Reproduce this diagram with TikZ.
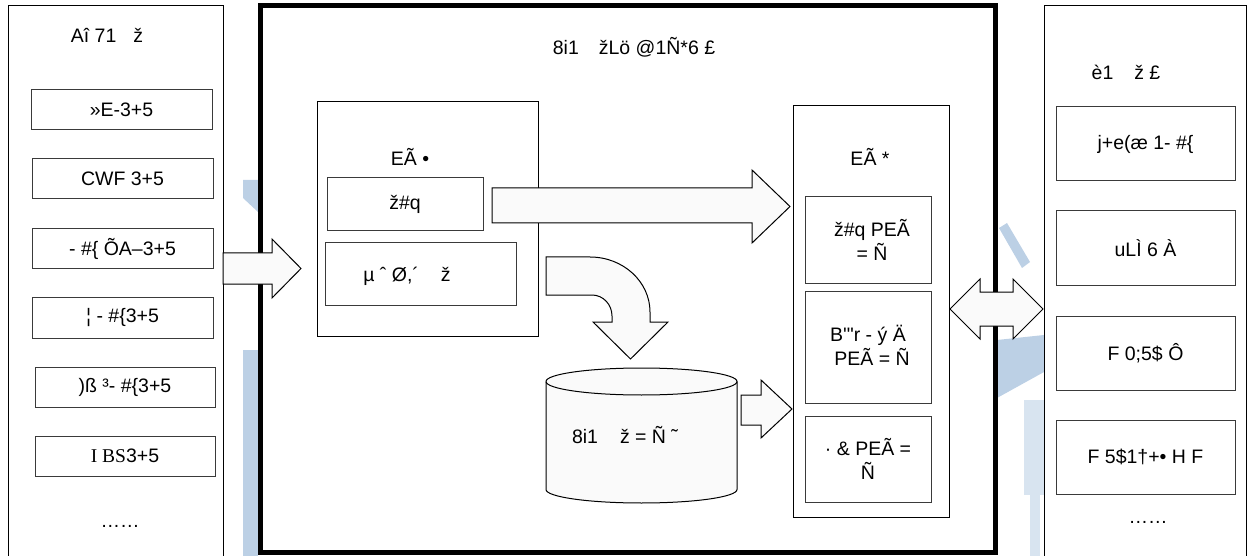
\documentclass[tikz,border=0pt]{standalone}
\usepackage{fontspec}
\setmainfont{Liberation Sans}
\newfontfamily\serifalt{Liberation Serif}
\usetikzlibrary{calc}
\definecolor{wm}{HTML}{BCD0E5}
\definecolor{wmlight}{HTML}{D8E4F0}
\definecolor{arrowfill}{HTML}{FAFAFA}
\definecolor{boxline}{HTML}{3A3A3A}
\begin{document}
\begin{tikzpicture}[x=1pt,y=-1pt,
  font=\fontsize{19.5}{24}\selectfont,
  panel/.style={draw=black, line width=1.2pt, fill=white, inner sep=0pt, anchor=north west},
  ibox/.style={draw=boxline, line width=1pt, fill=white, inner sep=0pt},
  lbl/.style={inner sep=0pt, align=center},
  barrow/.style={draw=black, line width=1pt, fill=arrowfill, line join=miter},
  cyl/.style={draw=black, line width=1pt, fill=arrowfill}]
\useasboundingbox (0,0) rectangle (1248,556);

% faint watermark visible in the gaps
\fill[wm] (243,180) -- (258,180) -- (258,212) -- (243,198) -- cycle;
\fill[wm] (243,350) rectangle (258,556);
\fill[wm] (999,228) -- (1007,223) -- (1030,262) -- (1022,268) -- cycle;
\fill[wm] (997,340) -- (1044,335) -- (1044,372) -- (997,398) -- cycle;
\fill[wmlight] (1024,400) rectangle (1044,495);
\fill[wmlight] (1030,495) rectangle (1040,556);

% left panel
\node[panel, minimum width=215pt, minimum height=570pt] (lp) at (8,5) {};
\node[lbl] (lt) at (107,35) {Aî 71\hspace{17pt}ž};
\node[ibox, minimum width=181pt, minimum height=40pt] (l1) at (121.5,110) {»E-3+5};
\node[ibox, minimum width=181pt, minimum height=40pt] (l2) at (122.5,179) {CWF 3+5};
\node[ibox, minimum width=181pt, minimum height=40pt] (l3) at (122.5,249) {- \#\{ ÕA–3+5};
\node[ibox, minimum width=181pt, minimum height=41pt] (l4) at (122.5,317.5) {¦ - \#\{3+5};
\node[ibox, minimum width=180pt, minimum height=40pt] (l5) at (125,387) {)ß ³- \#\{3+5};
\node[ibox, minimum width=180pt, minimum height=40pt] (l6) at (125,456) {{\serifalt I BS}3+5};
\node[lbl] (ldots) at (120,526) {……};

% right panel
\node[panel, minimum width=202pt, minimum height=570pt] (rp) at (1044,5) {};
\node[lbl] (rt) at (1126,72) {è1\hspace{21pt}ž £};
\node[ibox, minimum width=179pt, minimum height=74pt] (r1) at (1145.5,144) {j+e(æ 1- \#\{};
\node[ibox, minimum width=179pt, minimum height=74pt] (r2) at (1145.5,248) {uLÌ 6 À};
\node[ibox, minimum width=179pt, minimum height=74pt] (r3) at (1145.5,353) {F 0;5\$ Ô};
\node[ibox, minimum width=179pt, minimum height=74pt] (r4) at (1145.5,457) {F 5\$1†+• H F};
\node[lbl] (rdots) at (1148,522) {……};

% centre panel
\node[draw=black, line width=5pt, fill=white, inner sep=0pt,
      minimum width=734.5pt, minimum height=546.5pt] (cp) at (627.75,278.75) {};
\node[lbl] (ct) at (634,47) {8i1\hspace{20pt}žLö @1Ñ*6 £};

% input module
\node[ibox, draw=black, minimum width=221pt, minimum height=234pt] (inbox) at (427.5,219) {};
\node[lbl] (intitle) at (410,157) {EÃ •};
\node[ibox, minimum width=156pt, minimum height=53pt] (zq) at (405,204.5) {};
\node[lbl] at (zq) {ž\#q};
\node[ibox, minimum width=191pt, minimum height=62pt] (mu) at (420.5,274) {};
\node[lbl] at (407,276) {µ ˆ Ø,´\hspace{22pt}ž};

% output module
\node[ibox, draw=black, minimum width=156pt, minimum height=411pt] (outbox) at (871,311.5) {};
\node[lbl] (outtitle) at (870,157) {EÃ *};
\node[ibox, minimum width=126pt, minimum height=86pt] (s1) at (868,240) {};
\node[lbl] at (872,240) {ž\#q PEÃ\\= Ñ};
\node[ibox, minimum width=126pt, minimum height=112pt] (s2) at (868,347) {};
\node[lbl] at (868,345.5) {B\textquotesingle\textquotedbl r - ý Ä\\\hspace{8pt}PEÃ = Ñ};
\node[ibox, minimum width=126pt, minimum height=86pt] (s3) at (868,459) {};
\node[lbl] at (868,459) {· \& PEÃ =\\Ñ};

% database cylinder
\draw[cyl] (546,381.5) -- (546,489.5)
  arc[start angle=180, end angle=360, x radius=95.5pt, y radius=13.5pt]
  -- (737,381.5)
  arc[start angle=0, end angle=180, x radius=95.5pt, y radius=13.5pt] -- cycle;
\draw[line width=1pt] (546,381.5)
  arc[start angle=180, end angle=360, x radius=95.5pt, y radius=13.5pt];
\node[lbl] (db) at (625,435) {8i1\hspace{22pt}ž = Ñ ˜};

% block arrows
\draw[barrow] (223,253) -- (272,253) -- (272,239) -- (301,268.5) -- (272,298)
  -- (272,284) -- (223,284) -- cycle;
\draw[barrow] (492,188) -- (752,188) -- (752,170) -- (790,206.5) -- (752,243)
  -- (752,223) -- (492,223) -- cycle;
\draw[barrow] (546,257) -- (590,257)
  arc[start angle=90, end angle=0, x radius=60pt, y radius=55pt]
  -- (650,322) -- (668,322) -- (630.5,359) -- (593,322) -- (612,322) -- (612,316)
  arc[start angle=0, end angle=90, x radius=20pt, y radius=21pt]
  -- (546,295) -- cycle;
\draw[barrow] (741,395) -- (761,395) -- (761,380) -- (792,409) -- (761,438)
  -- (761,425) -- (741,425) -- cycle;
\draw[barrow] (950,309) -- (980,279) -- (980,292) -- (1013,292) -- (1013,279)
  -- (1043,309) -- (1013,339) -- (1013,326) -- (980,326) -- (980,339) -- cycle;
\end{tikzpicture}
\end{document}
